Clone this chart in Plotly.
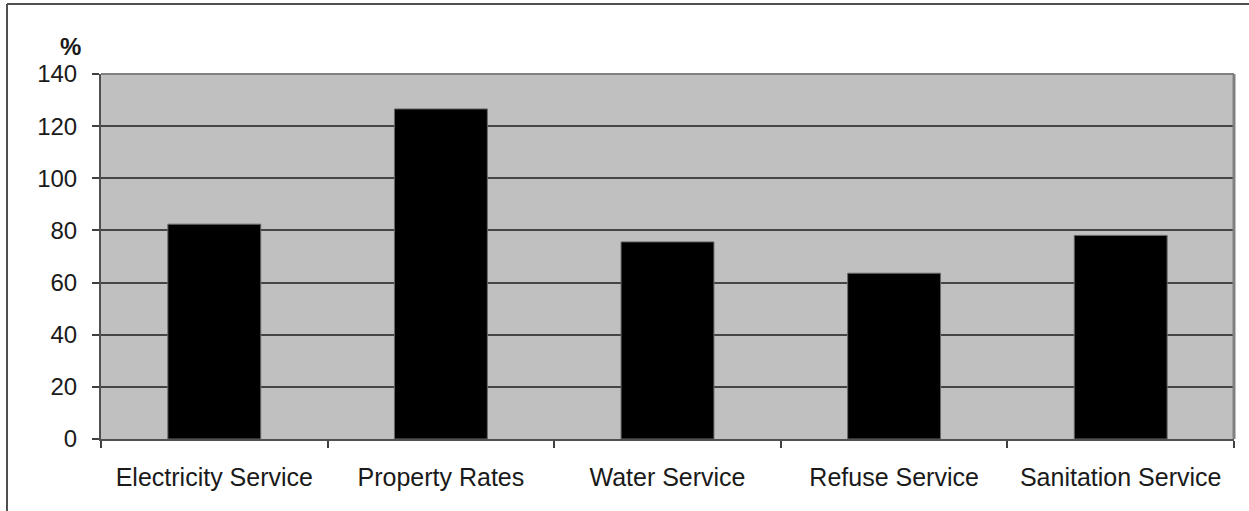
import plotly.graph_objects as go

categories = ["Electricity Service", "Property Rates", "Water Service", "Refuse Service", "Sanitation Service"]
values = [82.4, 126.6, 75.6, 63.6, 78.1]
y_ticks = [0, 20, 40, 60, 80, 100, 120, 140]

W, H = 1249, 511
L, R, T, B = 101, 15, 74, 72
FONT = "Liberation Sans, Arial, sans-serif"

fig = go.Figure(
    go.Bar(
        x=categories,
        y=values,
        marker=dict(color="#000000", line=dict(color="#6a6a6a", width=1)),
        width=0.41,
        hoverinfo="x+y",
    )
)

def px_to_paper_x(px):
    return (px - L) / (W - L - R)

def px_to_paper_y(py):
    return (H - B - py) / (H - T - B)

fig.update_layout(
    width=W,
    height=H,
    margin=dict(l=L, r=R, t=T, b=B),
    paper_bgcolor="#ffffff",
    plot_bgcolor="#c0c0c0",
    showlegend=False,
    font=dict(family=FONT, size=24, color="#1a1a1a"),
    xaxis=dict(
        type="category",
        showgrid=False,
        showline=True,
        linecolor="#505050",
        linewidth=2,
        ticks="outside",
        tickson="boundaries",
        ticklen=7,
        tickwidth=1.5,
        tickcolor="#404040",
        ticklabelstandoff=15,
        tickfont=dict(family=FONT, size=25, color="#1a1a1a"),
        fixedrange=True,
    ),
    yaxis=dict(
        range=[0, 140],
        tickvals=y_ticks,
        ticktext=[str(v) for v in y_ticks],
        showgrid=True,
        gridcolor="#454545",
        gridwidth=1.6,
        zeroline=False,
        showline=True,
        linecolor="#505050",
        linewidth=2,
        ticks="outside",
        ticklen=7,
        tickwidth=1.5,
        tickcolor="#404040",
        ticklabelstandoff=10,
        tickfont=dict(family=FONT, size=24, color="#1a1a1a"),
        fixedrange=True,
    ),
)

# plot-area border (top and right edges)
fig.add_shape(type="line", xref="paper", yref="paper", x0=0, x1=1, y0=1, y1=1,
              line=dict(color="#808080", width=2))
fig.add_shape(type="line", xref="paper", yref="paper", x0=1, x1=1, y0=0, y1=1,
              line=dict(color="#808080", width=3))

# outer chart frame
fx = px_to_paper_x(7)
fy_top = px_to_paper_y(4)
fy_bot = px_to_paper_y(515)
fx_right = px_to_paper_x(1255)
fig.add_shape(type="line", xref="paper", yref="paper", x0=fx, x1=fx, y0=fy_bot, y1=fy_top,
              line=dict(color="#505050", width=2))
fig.add_shape(type="line", xref="paper", yref="paper", x0=fx, x1=fx_right, y0=fy_top, y1=fy_top,
              line=dict(color="#505050", width=2))

# unit label above the value axis
fig.add_annotation(text="<b>%</b>", xref="paper", yref="paper",
                   x=px_to_paper_x(70), y=px_to_paper_y(47),
                   xanchor="center", yanchor="middle", showarrow=False,
                   font=dict(family=FONT, size=24, color="#1a1a1a"))

fig.write_html("out.html")
